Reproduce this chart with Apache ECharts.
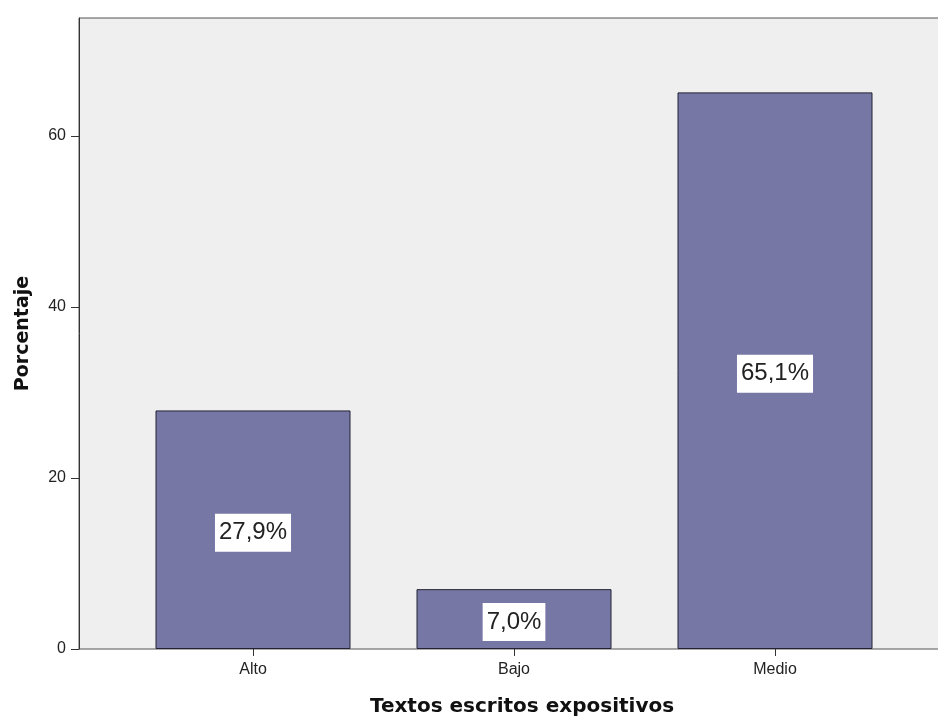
<!DOCTYPE html>
<html>
<head>
<meta charset="utf-8">
<script src="https://cdn.jsdelivr.net/npm/echarts@6/dist/echarts.min.js"></script>
<style>
html,body{margin:0;padding:0;background:#fff;}
#chart{width:938px;height:718px;}
</style>
</head>
<body>
<div id="chart"></div>
<script>
var categories = ['Alto', 'Bajo', 'Medio'];
var percentValues = [27.9, 7.0, 65.1];
var yTicks = [0, 20, 40, 60];
var xTitle = 'Textos escritos expositivos';
var yTitle = 'Porcentaje';

var chart = echarts.init(document.getElementById('chart'), null, {renderer: 'canvas'});
var yMax = 73.8;
var labelFont = 'Liberation Sans, Arial, sans-serif';
var titleFont = 'DejaVu Sans, sans-serif';

chart.setOption({
  animation: false,
  backgroundColor: '#ffffff',
  grid: [
    {left: 79, top: 18, width: 870, bottom: 69, show: true, backgroundColor: '#efefef', borderColor: '#555', borderWidth: 1, containLabel: false, outerBoundsMode: 'none'},
    {left: 122.5, top: 18, width: 783, bottom: 69, show: false, containLabel: false, outerBoundsMode: 'none'}
  ],
  xAxis: [
    {gridIndex: 0, type: 'value', min: 0, max: 1, show: false},
    {
      gridIndex: 1, type: 'category', data: categories, boundaryGap: true,
      axisLine: {show: false},
      axisTick: {show: true, alignWithLabel: true, length: 7, lineStyle: {color: '#333', width: 1}},
      axisLabel: {show: true, margin: 13, color: '#222', fontSize: 16, fontFamily: labelFont},
      name: xTitle, nameLocation: 'middle', nameGap: 48,
      nameTextStyle: {fontFamily: titleFont, fontWeight: 'bold', fontSize: 20, color: '#111', padding: [0, 0, 0, 16]}
    }
  ],
  yAxis: [
    {
      gridIndex: 0, type: 'value', min: 0, max: yMax, interval: 20,
      axisLine: {show: true, lineStyle: {color: '#333', width: 1}},
      axisTick: {show: true, length: 8, lineStyle: {color: '#333'}, customValues: yTicks},
      axisLabel: {show: true, margin: 13, color: '#222', fontSize: 16, fontFamily: labelFont, customValues: yTicks},
      splitLine: {show: false},
      name: yTitle, nameLocation: 'middle', nameGap: 46, nameRotate: 90,
      nameTextStyle: {fontFamily: titleFont, fontWeight: 'bold', fontSize: 19, color: '#111'}
    },
    {gridIndex: 1, type: 'value', min: 0, max: yMax, show: false}
  ],
  series: [{
    type: 'bar',
    xAxisIndex: 1, yAxisIndex: 1,
    data: percentValues,
    barWidth: 195,
    itemStyle: {color: '#7777a6', borderColor: '#222233', borderWidth: 1},
    label: {
      show: true, position: 'inside', offset: [0, 3],
      formatter: function (p) { return p.value.toFixed(1).replace('.', ',') + '%'; },
      backgroundColor: '#ffffff', padding: [7, 4, 7, 4],
      color: '#222', fontSize: 24, fontFamily: labelFont, lineHeight: 24
    }
  }]
});
</script>
</body>
</html>
